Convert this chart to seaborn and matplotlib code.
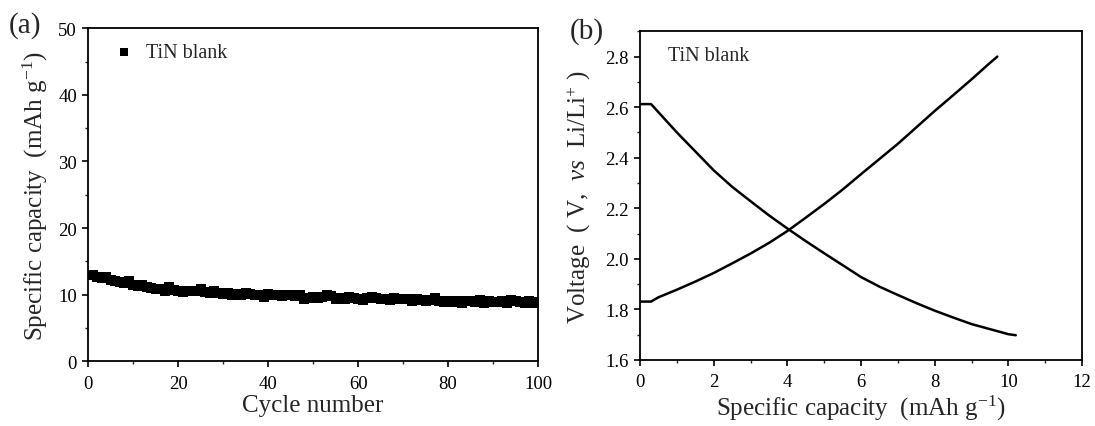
import numpy as np
import pandas as pd
import matplotlib
matplotlib.use('Agg')
import matplotlib.pyplot as plt
from matplotlib.ticker import MultipleLocator, FormatStrFormatter
import seaborn as sns

# (a) cycling data
cycle = list(range(1, 101))
capacity = [13.0, 12.7, 12.5, 12.6, 12.2, 12.0, 11.9, 11.8, 12.0, 11.5,
            11.3, 11.4, 11.1, 11.0, 10.9, 10.8, 10.6, 11.2, 10.7, 10.5,
            10.4, 10.5, 10.6, 10.5, 10.8, 10.4, 10.3, 10.5, 10.2, 10.1,
            10.2, 10.0, 10.1, 10.0, 10.2, 10.1, 9.9, 10.0, 9.7, 10.1,
            9.9, 10.0, 9.8, 9.9, 10.0, 9.8, 9.9, 9.4, 9.5, 9.6,
            9.5, 9.7, 10.0, 9.8, 9.3, 9.5, 9.4, 9.7, 9.5, 9.4,
            9.2, 9.5, 9.6, 9.5, 9.3, 9.4, 9.2, 9.5, 9.4, 9.3,
            9.3, 9.1, 9.4, 9.2, 9.0, 9.2, 9.5, 9.0, 8.9, 9.0,
            8.9, 9.0, 8.8, 9.1, 9.0, 8.9, 9.2, 8.7, 9.0, 8.9,
            8.9, 9.1, 8.8, 9.2, 9.0, 8.9, 8.7, 9.0, 8.8, 8.9]

# (b) discharge / charge curves
dis_cap = [0, 0.3, 0.5, 1, 1.5, 2, 2.5, 3, 3.5, 4, 4.5, 5, 5.5, 6, 6.5,
           7, 7.5, 8, 8.5, 9, 9.5, 10, 10.2]
dis_volt = [2.612, 2.612, 2.58, 2.50, 2.425, 2.35, 2.285, 2.228, 2.172, 2.12,
            2.07, 2.022, 1.975, 1.928, 1.89, 1.857, 1.825, 1.795, 1.768,
            1.742, 1.722, 1.702, 1.698]
chg_cap = [0, 0.3, 0.5, 1, 1.5, 2, 2.5, 3, 3.5, 4, 4.5, 5, 5.5, 6, 6.5,
           7, 7.5, 8, 8.5, 9, 9.5, 9.7]
chg_volt = [1.831, 1.831, 1.848, 1.878, 1.910, 1.944, 1.982, 2.021, 2.063,
            2.110, 2.163, 2.217, 2.274, 2.335, 2.395, 2.455, 2.520, 2.585,
            2.647, 2.710, 2.775, 2.80]

sns.set_style('ticks')
plt.rcParams['font.family'] = ['Liberation Serif', 'DejaVu Serif']
plt.rcParams['mathtext.fontset'] = 'custom'
plt.rcParams['mathtext.rm'] = 'Liberation Serif'
plt.rcParams['mathtext.it'] = 'Liberation Serif:italic'

fig = plt.figure(figsize=(10.95, 4.27), dpi=100)
ax1 = fig.add_axes([0.0804, 0.1515, 0.4110, 0.7799])
ax2 = fig.add_axes([0.5845, 0.1546, 0.4037, 0.7698])

df_a = pd.DataFrame({'cycle': cycle, 'capacity': capacity})
sns.scatterplot(data=df_a, x='cycle', y='capacity', marker='s', s=50,
                color='black', edgecolor='black', linewidth=0, ax=ax1,
                label='TiN blank')
ax1.set_xlim(0, 100)
ax1.set_ylim(0, 50)
ax1.xaxis.set_major_locator(MultipleLocator(20))
ax1.xaxis.set_minor_locator(MultipleLocator(10))
ax1.yaxis.set_major_locator(MultipleLocator(10))
ax1.yaxis.set_minor_locator(MultipleLocator(5))
ax1.set_xlabel('Cycle number', fontsize=18, labelpad=2)
ax1.set_ylabel('Specific capacity  (mAh g$^{-1}$)', fontsize=18, labelpad=6)
ax1.legend(loc='center left', bbox_to_anchor=(0.04, 0.926), frameon=False,
           fontsize=14.5, handlelength=1.0, handletextpad=0.6,
           borderaxespad=0, markerscale=0.9)

df_dis = pd.DataFrame({'cap': dis_cap, 'volt': dis_volt})
df_chg = pd.DataFrame({'cap': chg_cap, 'volt': chg_volt})
sns.lineplot(data=df_dis, x='cap', y='volt', sort=False, color='black',
             linewidth=1.8, ax=ax2)
sns.lineplot(data=df_chg, x='cap', y='volt', sort=False, color='black',
             linewidth=1.8, ax=ax2)
ax2.set_xlim(0, 12)
ax2.set_ylim(1.6, 2.9)
ax2.xaxis.set_major_locator(MultipleLocator(2))
ax2.xaxis.set_minor_locator(MultipleLocator(1))
ax2.yaxis.set_major_locator(MultipleLocator(0.2))
ax2.yaxis.set_minor_locator(MultipleLocator(0.1))
ax2.yaxis.set_major_formatter(FormatStrFormatter('%.1f'))
ax2.set_xlabel('Specific capacity  (mAh g$^{-1}$)', fontsize=18, labelpad=2)
ax2.set_ylabel('Voltage  ( V,  $vs$  Li/Li$^{+}$ )', fontsize=18, labelpad=9)
ax2.text(0.063, 0.925, 'TiN blank', transform=ax2.transAxes, fontsize=14.5,
         va='center', ha='left')

for ax in (ax1, ax2):
    for sp in ax.spines.values():
        sp.set_visible(True)
        sp.set_linewidth(1.3)
        sp.set_color('black')
    ax.tick_params(which='major', direction='out', length=4.5, width=1.2,
                   labelsize=13.5, colors='black')
    ax.tick_params(which='minor', direction='out', length=2.5, width=1.0)
    ax.tick_params(axis='x', which='major', pad=5)

fig.text(0.008, 0.94, '(a)', fontsize=21, va='center', ha='left')
fig.text(0.520, 0.925, '(b)', fontsize=21, va='center', ha='left')

fig.savefig('out.png', dpi=100)
